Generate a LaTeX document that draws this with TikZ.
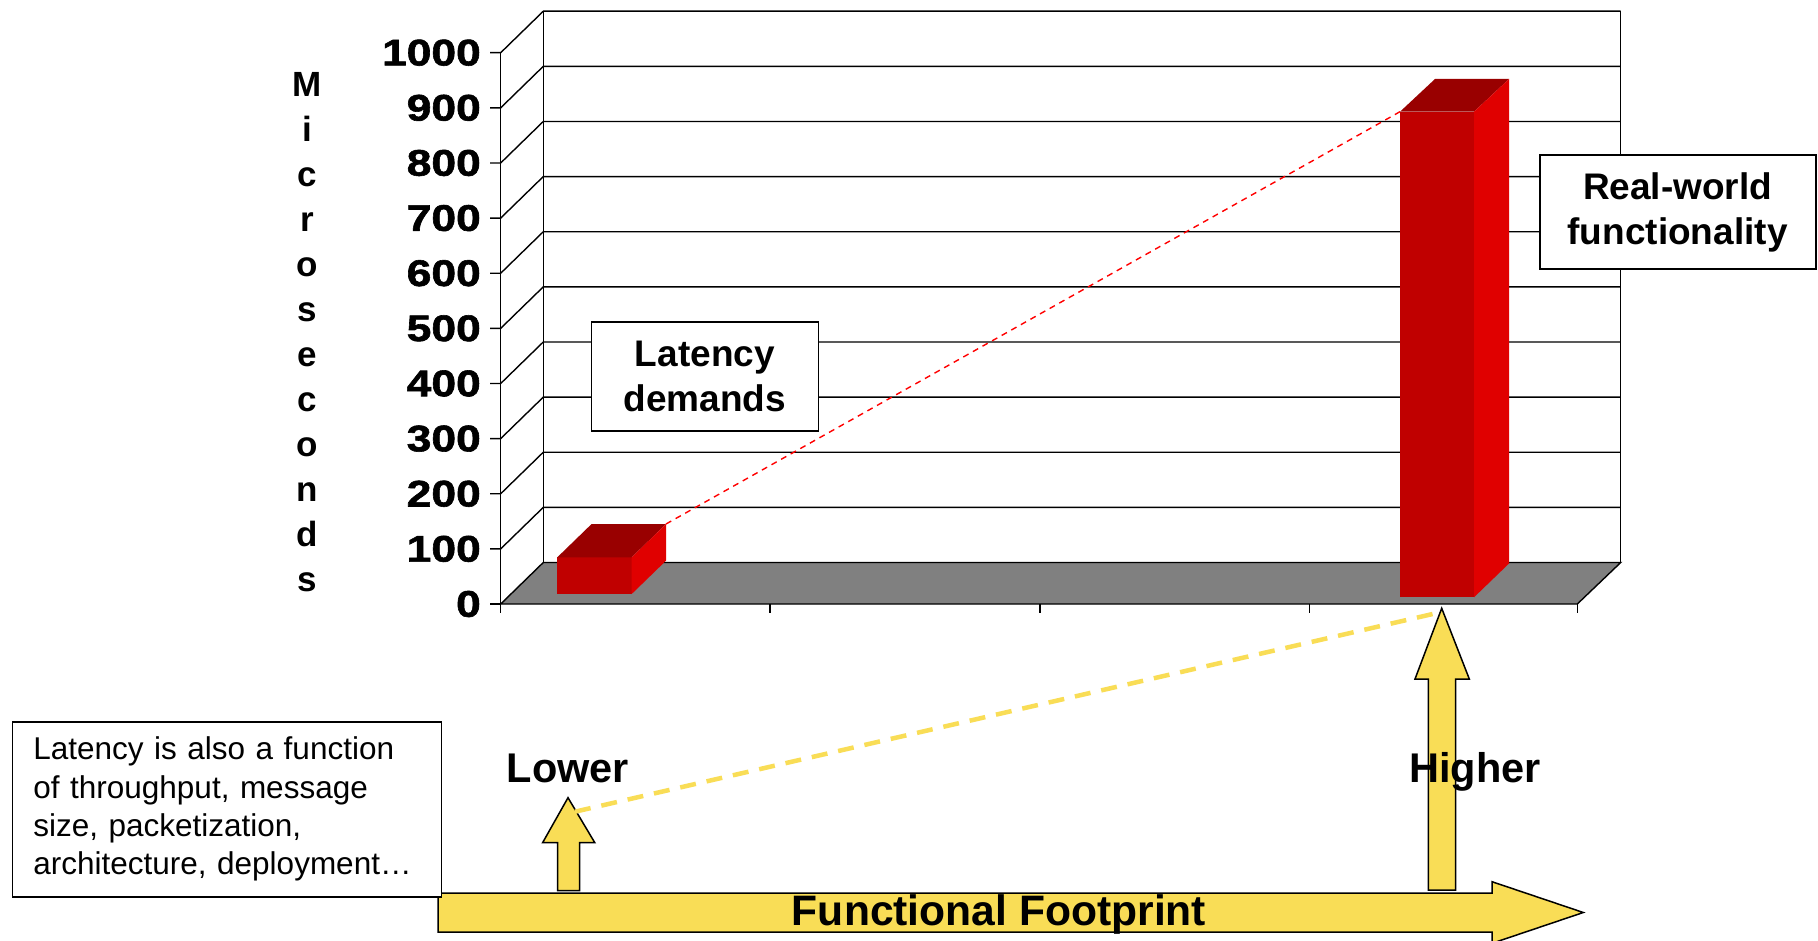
\documentclass[tikz,border=0pt]{standalone}
\usepackage{fontspec}
\setmainfont{Liberation Sans}
\newfontfamily\axisfont{Liberation Sans Bold}[FakeStretch=1.2, FakeBold=1.6]
\definecolor{barfront}{RGB}{192,0,0}
\definecolor{barside}{RGB}{224,0,0}
\definecolor{bartop}{RGB}{153,0,0}
\definecolor{floorgray}{RGB}{128,128,128}
\definecolor{arrowyellow}{RGB}{249,221,86}
\begin{document}
\begin{tikzpicture}[x=1pt,y=-1pt,
  grid/.style={line width=1.4pt},
  lbl/.style={font=\fontsize{37}{45}\selectfont\bfseries, align=center},
  ylab/.style={anchor=east, font=\axisfont\fontsize{37}{40}\selectfont, inner sep=0pt},
  callout/.style={draw, fill=white, line width=1.8pt},
  yarrow/.style={fill=arrowyellow, draw=black, line width=1.5pt, line join=miter},
  reddash/.style={draw=red, line width=1.4pt, dash pattern=on 6pt off 5pt},
  ydash/.style={draw=arrowyellow, line width=4.5pt, dash pattern=on 16pt off 11pt},
  bigtext/.style={font=\fontsize{41.5}{48}\selectfont\bfseries, anchor=base}
]
\clip (0,0) rectangle (1818,941);
\fill[white] (0,0) rectangle (1818,941);
% back wall and side wall
\foreach \k in {1,...,10}{
  \pgfmathsetmacro\yy{604-55.13*\k}
  \draw[grid] (490,\yy) -- (500.7,\yy) -- (543.3,\yy-41.5) -- (1620.7,\yy-41.5);
}
\draw[grid] (500.7,52.7) -- (500.7,604);
\draw[grid] (543.3,11.2) -- (543.3,562.5);
\draw[grid] (1620.7,11.2) -- (1620.7,562.5);
% floor
\draw[grid, fill=floorgray] (500.7,604) -- (1577.3,604) -- (1620.7,562.5) -- (543.3,562.5) -- cycle;
\draw[grid] (490,604) -- (500.7,604);
\foreach \x in {500.7,769.8,1040,1309.3,1577.3}{
  \draw[grid] (\x,604) -- (\x,613);
}
% axis labels
\foreach \k in {0,...,10}{
  \pgfmathsetmacro\yy{604-55.13*\k}
  \pgfmathtruncatemacro\v{100*\k}
  \node[ylab] (tick\k) at (481,\yy) {\v};
}
\node[font=\fontsize{35}{45}\selectfont\bfseries, align=center] (ylabel) at (307,332) {M\\i\\c\\r\\o\\s\\e\\c\\o\\n\\d\\s};
% small bar
\fill[barfront] (557.3,557.3) rectangle (631.7,594);
\fill[bartop] (557.3,557.3) -- (631.7,557.3) -- (666,524) -- (591.6,524) -- cycle;
\fill[barside] (631.7,557.3) -- (666,524) -- (666,560.7) -- (631.7,594) -- cycle;
% big bar
\fill[barfront] (1400,111.7) rectangle (1474,597.3);
\fill[bartop] (1400,111.7) -- (1474,111.7) -- (1509,79) -- (1435,79) -- cycle;
\fill[barside] (1474,111.7) -- (1509,79) -- (1509,563.5) -- (1474,597.3) -- cycle;
\coordinate (smalltop) at (666,524);
\coordinate (bigtop) at (1400,111.7);
\draw[reddash] (smalltop) -- (bigtop);
% callouts
\node[callout, lbl, minimum width=227, minimum height=109] (lat) at (704.9,376.8) {Latency\\demands};
\node[callout, lbl, minimum width=276, minimum height=113.6] (rw) at (1677.6,212.2) {Real-world\\functionality};
% arrows
\draw[yarrow] (438,893) -- (1492,893) -- (1492,881.7) -- (1583.3,912.5) -- (1492,943.3) -- (1492,932) -- (438,932) -- cycle;
\draw[yarrow] (1428.3,890) -- (1428.3,679) -- (1415,679) -- (1441.7,608.3) -- (1469.3,679) -- (1455.7,679) -- (1455.7,890) -- cycle;
\draw[yarrow] (557.7,890.7) -- (557.7,842.7) -- (542.6,842.7) -- (568,797.7) -- (594.8,842.7) -- (579.7,842.7) -- (579.7,890.7) -- cycle;
\coordinate (lowtip) at (575,811.7);
\coordinate (hightip) at (1437,613);
\draw[ydash] (lowtip) -- (hightip);
\node[bigtext] (lower) at (568,782.5) {Lower};
\node[bigtext] (higher) at (1475,782.5) {Higher};
\node[bigtext, font=\fontsize{42.6}{48}\selectfont\bfseries] (ff) at (999,925.5) {Functional Footprint};
% note
\node[callout, line width=1.6pt, font=\fontsize{31.5}{38.3}\selectfont, align=left, text width=387, inner xsep=21, minimum height=175, anchor=north west] (note) at (11.6,721) {Latency is also a function\\of throughput, message\\size, packetization,\\architecture, deployment…};
\end{tikzpicture}
\end{document}
